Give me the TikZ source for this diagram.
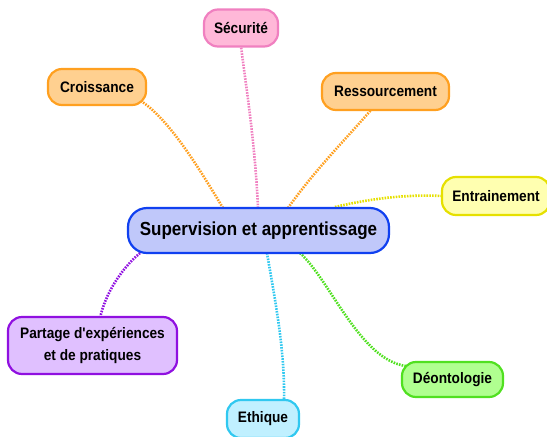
\documentclass[tikz,border=0pt]{standalone}
\usepackage{fontspec}
\setmainfont{Liberation Sans}
\newfontfamily\nodefont[FakeStretch=0.9]{Liberation Sans}
\begin{document}
\begin{tikzpicture}[x=1pt,y=-1pt,
  topic/.style={draw, line width=2.2pt, rounded corners=14pt, font=\nodefont\bfseries\fontsize{15.2}{17}\selectfont, align=center, inner sep=0pt},
  link/.style={line width=2.6pt, dash pattern=on 1.6pt off 1.2pt},
]
\useasboundingbox (0,0) rectangle (547,437);
\definecolor{cblueF}{RGB}{192,200,250}\definecolor{cblueD}{RGB}{16,64,240}
\definecolor{cpinkF}{RGB}{255,184,216}\definecolor{cpinkD}{RGB}{240,128,192}
\definecolor{corgF}{RGB}{255,208,144}\definecolor{corgD}{RGB}{255,160,32}
\definecolor{cyelF}{RGB}{255,255,176}\definecolor{cyelD}{RGB}{230,224,0}
\definecolor{cpurF}{RGB}{224,192,255}\definecolor{cpurD}{RGB}{144,16,224}
\definecolor{cgrnF}{RGB}{176,255,144}\definecolor{cgrnD}{RGB}{80,224,32}
\definecolor{ccyaF}{RGB}{192,240,255}\definecolor{ccyaD}{RGB}{48,200,240}

% connectors (drawn first, under nodes)
\coordinate (cC) at (223,208);
\coordinate (cS) at (258,208);
\coordinate (cR) at (288,208);
\coordinate (cE) at (335,207);
\coordinate (cD) at (300,253);
\coordinate (cT) at (267,253);
\coordinate (cP) at (140,253);
\coordinate (eC) at (141,101);
\coordinate (eS) at (241,46);
\coordinate (eR) at (371,110);
\coordinate (eE) at (443,196);
\coordinate (eD) at (406,366);
\coordinate (eT) at (284,400);
\coordinate (eP) at (100,318);
\draw[link, corgD] (cC) .. controls (200,170) and (170,120) .. (eC);
\draw[link, cpinkD] (cS) .. controls (255,140) and (245,80) .. (eS);
\draw[link, corgD] (cR) .. controls (315,170) and (345,140) .. (eR);
\draw[link, cyelD] (cE) .. controls (365,200) and (400,194) .. (eE);
\draw[link, cgrnD] (cD) .. controls (330,280) and (360,360) .. (eD);
\draw[link, ccyaD] (cT) .. controls (275,300) and (285,350) .. (eT);
\draw[link, cpurD] (cP) .. controls (120,270) and (105,295) .. (eP);

\node[topic, fill=cblueF, draw=cblueD, minimum width=261pt, minimum height=45pt, rounded corners=19pt, font=\nodefont\bfseries\fontsize{18.9}{21}\selectfont] (main) at (258.5,230.5) {Supervision et apprentissage};
\node[topic, fill=cpinkF, draw=cpinkD, minimum width=74pt, minimum height=37pt] (sec) at (241,28) {Sécurité};
\node[topic, fill=corgF, draw=corgD, minimum width=98pt, minimum height=36pt] (cro) at (97,87) {Croissance};
\node[topic, fill=corgF, draw=corgD, minimum width=127pt, minimum height=37pt] (res) at (385.5,91.5) {Ressourcement};
\node[topic, fill=cyelF, draw=cyelD, minimum width=108pt, minimum height=38pt] (ent) at (496,196) {Entrainement};
\node[topic, fill=cpurF, draw=cpurD, minimum width=169pt, minimum height=57pt, font=\nodefont\bfseries\fontsize{15.2}{21.5}\selectfont] (par) at (92.5,345.5) {Partage d'expériences\\et de pratiques};
\node[topic, fill=cgrnF, draw=cgrnD, minimum width=101pt, minimum height=35pt] (deo) at (452.5,379.5) {Déontologie};
\node[topic, fill=ccyaF, draw=ccyaD, minimum width=72pt, minimum height=38pt] (eth) at (263,419) {Ethique};
\end{tikzpicture}
\end{document}
